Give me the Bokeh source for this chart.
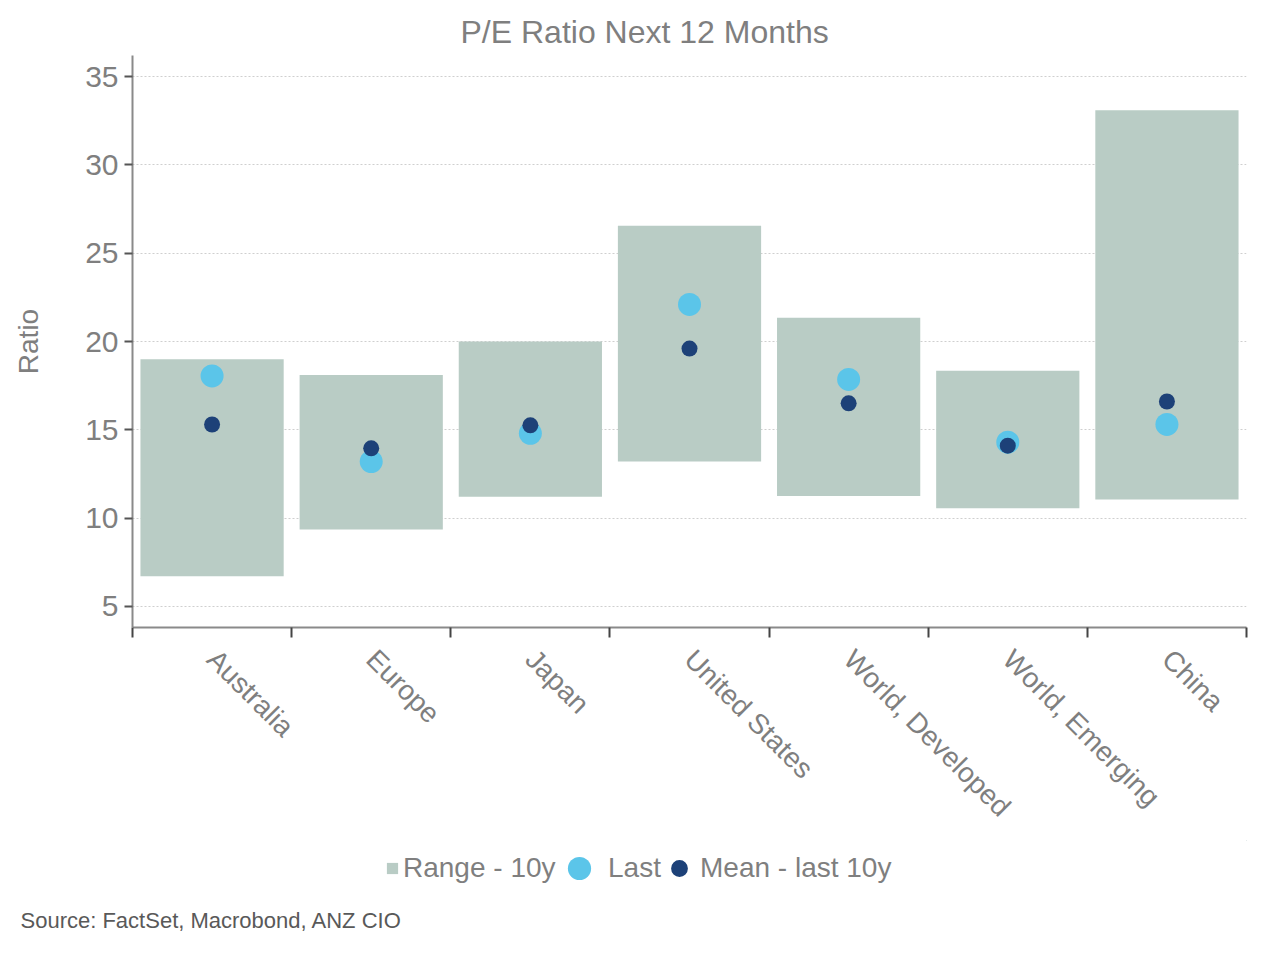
import numpy as np
from bokeh.plotting import figure
from bokeh.layouts import column
from bokeh.models import (ColumnDataSource, FixedTicker, Range1d, Legend, LegendItem, Title)
from bokeh.embed import file_html
from bokeh.resources import INLINE

# ---- data ----
categories = ["Australia", "Europe", "Japan", "United States",
              "World, Developed", "World, Emerging", "China"]
range_low = [6.7, 9.35, 11.2, 13.2, 11.25, 10.55, 11.05]
range_high = [19.0, 18.1, 20.0, 26.55, 21.35, 18.35, 33.1]
last = [18.05, 13.2, 14.8, 22.1, 17.85, 14.3, 15.3]
mean = [15.3, 13.95, 15.25, 19.6, 16.5, 14.1, 16.6]
y_ticks = [5, 10, 15, 20, 25, 30, 35]

FONT = "Liberation Sans"
GRAY = "#7f7f7f"
BAR_C = "#b9ccc5"
LAST_C = "#5bc5e9"
MEAN_C = "#1d4178"

x = np.arange(len(categories)) + 0.5
src = ColumnDataSource(dict(x=x, low=range_low, high=range_high, last=last, mean=mean))

W = 1272
p = figure(output_backend="svg", toolbar_location=None,
           frame_width=1114, frame_height=572,
           min_border_left=132, min_border_right=26, min_border_top=55, min_border_bottom=213,
           x_range=Range1d(0, len(categories)), y_range=Range1d(3.8, 36.2))
p.outline_line_color = None

p.vbar(x="x", bottom="low", top="high", width=0.9, source=src,
       fill_color=BAR_C, line_color=None)
p.scatter(x="x", y="last", size=23, source=src, fill_color=LAST_C, line_color=None)
p.scatter(x="x", y="mean", size=16, source=src, fill_color=MEAN_C, line_color=None)

# title
p.title.text = "P/E Ratio Next 12 Months"
p.title.align = "left"
p.title.offset = 328
p.title.text_font = FONT
p.title.text_font_size = "32px"
p.title.text_font_style = "normal"
p.title.text_color = GRAY
p.title.standoff = 11

# grid
p.xgrid.visible = False
p.ygrid.grid_line_color = "#cfcfcf"
p.ygrid.grid_line_dash = "2 2"
p.ygrid.grid_line_width = 1
p.ygrid.ticker = FixedTicker(ticks=y_ticks)

# y axis
p.yaxis.ticker = FixedTicker(ticks=y_ticks)
p.yaxis.axis_label = "Ratio"
p.yaxis.axis_label_text_font = FONT
p.yaxis.axis_label_text_font_size = "28px"
p.yaxis.axis_label_text_font_style = "normal"
p.yaxis.axis_label_text_color = GRAY
p.yaxis.axis_label_standoff = 38
p.yaxis.major_label_text_font = FONT
p.yaxis.major_label_text_font_size = "30px"
p.yaxis.major_label_text_color = GRAY
p.yaxis.major_label_standoff = 6
p.yaxis.axis_line_color = "#8a8a8a"
p.yaxis.axis_line_width = 2
p.yaxis.major_tick_line_color = "#555555"
p.yaxis.major_tick_line_width = 2
p.yaxis.major_tick_out = 8
p.yaxis.major_tick_in = 0
p.yaxis.minor_tick_line_color = None

# x axis
p.xaxis.ticker = FixedTicker(ticks=list(x), minor_ticks=list(range(len(categories) + 1)))
p.xaxis.major_label_overrides = {float(v): c for v, c in zip(x, categories)}
p.xaxis.major_label_orientation = -np.pi / 4
p.xaxis.major_label_text_font = FONT
p.xaxis.major_label_text_font_size = "28px"
p.xaxis.major_label_text_color = GRAY
p.xaxis.major_label_standoff = 17
p.xaxis.major_tick_out = 0
p.xaxis.major_tick_in = 0
p.xaxis.major_tick_line_color = None
p.xaxis.minor_tick_out = 10
p.xaxis.minor_tick_in = 0
p.xaxis.minor_tick_line_color = "#444444"
p.xaxis.minor_tick_line_width = 2
p.xaxis.axis_line_color = "#8a8a8a"
p.xaxis.axis_line_width = 2

# ---- bottom strip: legend + source ----
p2 = figure(output_backend="svg", toolbar_location=None, width=W, frame_height=62,
            min_border=0, x_axis_type=None, y_axis_type=None,
            x_range=Range1d(-100, -99), y_range=Range1d(-100, -99))
p2.outline_line_color = None
p2.grid.visible = False
lr_range = p2.vbar(x="x", bottom="low", top="high", width=0.9, source=src,
                   fill_color=BAR_C, line_color=None)
lr_last = p2.scatter(x="x", y="last", size=23, source=src, fill_color=LAST_C, line_color=None)
lr_mean = p2.scatter(x="x", y="mean", size=16, source=src, fill_color=MEAN_C, line_color=None)


def make_legend(label, renderer, gw, gh, standoff, loc):
    leg = Legend(items=[LegendItem(label=label, renderers=[renderer])],
                 location=loc, orientation="horizontal",
                 glyph_width=gw, glyph_height=gh, label_standoff=standoff,
                 padding=0, margin=0, spacing=0,
                 border_line_color=None, background_fill_alpha=0,
                 label_text_font=FONT, label_text_font_size="28px",
                 label_text_color=GRAY)
    p2.add_layout(leg)


make_legend("Range - 10y", lr_range, 14, 14, 4, (253, 18))
make_legend("Last", lr_last, 58, 58, 0, (418, 5))
make_legend("Mean - last 10y", lr_mean, 42, 42, 0, (526, 13))

p2.add_layout(Title(text="Source: FactSet, Macrobond, ANZ CIO", align="left", offset=-112,
                    text_font=FONT, text_font_size="22px", text_font_style="normal",
                    text_color="#595959", standoff=6), "below")

open("out.html", "w").write(file_html(column(p, p2, spacing=0), INLINE))
